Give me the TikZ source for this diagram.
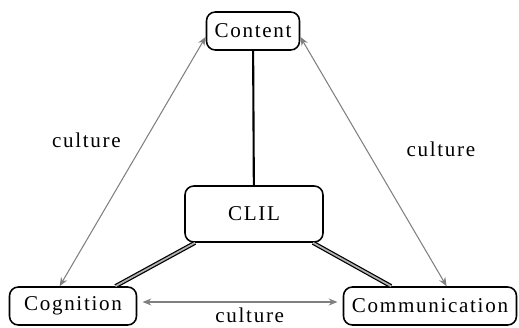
\documentclass[tikz,border=0pt]{standalone}
\usepackage{fontspec}
\setmainfont{Liberation Serif}[LetterSpace=8]
\usetikzlibrary{arrows.meta}

\begin{document}
\begin{tikzpicture}[x = 0.02cm, y = -0.02cm,
	box/.style = {draw, line width = 0.9pt, rounded corners = 5pt, inner sep = 0pt, font = \fontsize{12}{14}\selectfont},
	culture/.style = {draw = gray, line width = 0.6pt, {Stealth[length = 5pt, width = 4pt]}-{Stealth[length = 5pt, width = 4pt]}},
	lbl/.style = {font = \fontsize{12}{14}\selectfont},
	link/.style = {line width = 0.7pt, double = gray!60, double distance = 1pt}]
	\useasboundingbox (0, 0) rectangle (519, 327);
	\node[box, minimum width = 1.86cm, minimum height = 0.76cm] (content) at (253, 31) {Content};
	\node[box, minimum width = 2.76cm, minimum height = 1.12cm] (clil) at (254, 214) {CLIL};
	\node[box, minimum width = 2.54cm, minimum height = 0.76cm] (cognition) at (73, 306) {Cognition};
	\node[box, minimum width = 3.46cm, minimum height = 0.76cm] (communication) at (430, 306) {Communication};
	% core links
	\draw[line width = 1.2pt] (content) -- (clil);
	\draw[link] (clil.206) -- (cognition.25);
	\draw[link] (clil.-26) -- (communication.153);
	% culture arrows
	\draw[culture] (cognition.124) -- node[lbl, pos = 0.585, anchor = east, xshift = -0.36cm] (cultleft) {culture} (content.187);
	\draw[culture] (content.-7) -- node[lbl, pos = 0.45, anchor = west, xshift = 0.68cm] (cultright) {culture} (communication.50);
	\draw[culture] ([shift = {(3pt, 0.08cm)}]cognition.east) -- node[lbl, pos = 0.55, anchor = north, inner sep = 0pt, yshift = -0.1cm] (cultbottom) {culture} ([shift = {(-3pt, 0.08cm)}]communication.west);
\end{tikzpicture}
\end{document}
